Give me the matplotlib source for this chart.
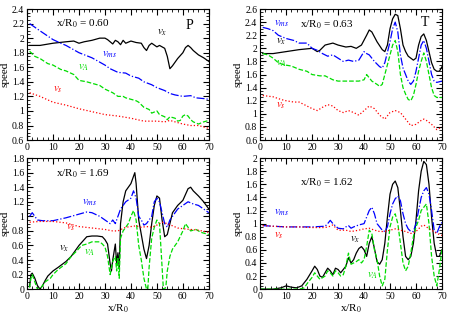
import numpy as np
import matplotlib
matplotlib.use("Agg")
import matplotlib.pyplot as plt
from matplotlib.ticker import MultipleLocator

plt.rcParams['font.family'] = ['Liberation Serif', 'DejaVu Serif']
plt.rcParams['mathtext.fontset'] = 'stix'
plt.rcParams['font.size'] = 7

# ---- panel P, x/R0 = 0.60 ----
p_vx_x = [1, 5, 10, 15, 18, 20, 22, 25, 28, 30, 31, 33, 34, 35, 36, 37, 38, 40, 42, 44, 45, 46, 47, 48, 50, 51, 53, 54, 55, 56, 57, 58, 60, 61, 62, 63, 64, 66, 68, 70]
p_vx_y = [1.9, 1.9, 1.93, 1.95, 1.96, 1.93, 1.95, 1.97, 2.0, 2.0, 1.98, 1.92, 1.97, 1.95, 1.91, 1.97, 1.93, 1.96, 1.94, 1.93, 1.87, 1.83, 1.9, 1.93, 1.88, 1.9, 1.86, 1.75, 1.58, 1.62, 1.67, 1.72, 1.8, 1.87, 1.9, 1.87, 1.83, 1.77, 1.73, 1.68]
p_vms_x = [1, 5, 10, 13, 15, 20, 25, 30, 32, 35, 38, 40, 43, 45, 48, 50, 53, 55, 57, 60, 63, 65, 68, 70]
p_vms_y = [2.2, 2.1, 1.98, 1.93, 1.9, 1.8, 1.73, 1.63, 1.58, 1.53, 1.52, 1.48, 1.45, 1.4, 1.36, 1.32, 1.28, 1.24, 1.22, 1.2, 1.21, 1.18, 1.17, 1.16]
p_va_x = [1, 3, 5, 8, 10, 13, 15, 18, 20, 23, 25, 28, 30, 33, 35, 37, 38, 40, 42, 43, 45, 47, 48, 50, 51, 53, 54, 55, 57, 58, 59, 60, 61, 62, 63, 64, 66, 68, 70]
p_va_y = [1.82, 1.75, 1.72, 1.65, 1.63, 1.57, 1.55, 1.5, 1.42, 1.4, 1.38, 1.35, 1.3, 1.25, 1.2, 1.2, 1.18, 1.16, 1.14, 1.12, 1.05, 1.02, 0.97, 1.0, 0.95, 0.92, 0.88, 0.92, 0.9, 0.86, 0.87, 0.93, 0.95, 0.93, 0.88, 0.85, 0.82, 0.85, 0.87]
p_vs_x = [1, 5, 10, 15, 20, 25, 30, 35, 40, 45, 50, 53, 55, 57, 60, 63, 66, 70]
p_vs_y = [1.25, 1.2, 1.12, 1.08, 1.03, 0.99, 0.95, 0.93, 0.9, 0.86, 0.86, 0.85, 0.87, 0.85, 0.82, 0.8, 0.8, 0.76]

# ---- panel T, x/R0 = 0.63 ----
t_vx_x = [1, 5, 10, 15, 20, 22, 23, 25, 28, 30, 33, 35, 37, 39, 41, 42, 43, 45, 47, 48, 49, 50, 51, 52, 53, 54, 55, 56, 57, 58, 59, 60, 61, 62, 63, 64, 65, 66, 67, 68, 69, 70]
t_vx_y = [1.92, 1.92, 1.95, 1.98, 2.0, 1.95, 1.97, 2.05, 2.08, 2.05, 2.02, 2.03, 2.0, 2.05, 2.2, 2.28, 2.25, 2.1, 1.98, 1.95, 2.05, 2.3, 2.45, 2.52, 2.5, 2.3, 2.05, 1.95, 1.88, 1.85, 1.82, 1.85, 2.05, 2.18, 2.22, 2.12, 1.95, 1.78, 1.68, 1.65, 1.65, 1.72]
t_vms_x = [1, 3, 5, 7, 10, 13, 15, 18, 20, 22, 24, 26, 28, 30, 32, 34, 36, 38, 40, 41, 42, 44, 46, 47, 48, 50, 51, 52, 53, 54, 55, 56, 57, 58, 59, 60, 61, 62, 63, 64, 65, 66, 67, 68, 70]
t_vms_y = [2.32, 2.3, 2.27, 2.2, 2.15, 2.12, 2.08, 2.08, 2.0, 1.97, 1.92, 1.88, 1.9, 1.85, 1.8, 1.82, 1.8, 1.82, 1.95, 1.92, 1.9, 1.8, 1.72, 1.7, 1.78, 2.1, 2.3, 2.4, 2.25, 1.9, 1.7, 1.6, 1.5, 1.45, 1.5, 1.65, 1.85, 2.05, 2.12, 2.0, 1.8, 1.6, 1.5, 1.48, 1.5]
t_va_x = [1, 3, 5, 7, 9, 12, 15, 18, 20, 23, 25, 28, 30, 33, 36, 38, 40, 41, 42, 43, 45, 46, 47, 48, 50, 51, 52, 53, 54, 55, 56, 57, 58, 59, 60, 61, 62, 63, 64, 65, 66, 67, 68, 70]
t_va_y = [1.92, 1.9, 1.85, 1.78, 1.75, 1.73, 1.68, 1.65, 1.6, 1.58, 1.58, 1.52, 1.5, 1.5, 1.5, 1.5, 1.52, 1.6, 1.55, 1.5, 1.45, 1.42, 1.45, 1.6, 1.9, 2.05, 2.12, 1.95, 1.6, 1.4, 1.3, 1.22, 1.2, 1.28, 1.45, 1.65, 1.8, 1.93, 1.8, 1.6, 1.4, 1.28, 1.25, 1.25]
t_vs_x = [1, 5, 8, 10, 13, 15, 18, 20, 22, 24, 26, 28, 30, 32, 34, 36, 38, 40, 42, 44, 46, 48, 50, 52, 54, 56, 58, 60, 62, 63, 64, 66, 68, 70]
t_vs_y = [1.28, 1.26, 1.22, 1.2, 1.18, 1.18, 1.12, 1.08, 1.05, 1.1, 1.14, 1.12, 1.05, 1.02, 1.05, 1.02, 0.98, 1.05, 1.12, 1.08, 0.98, 0.92, 1.02, 1.05, 1.02, 0.92, 0.82, 0.84, 0.9, 0.92, 0.9, 0.84, 0.76, 0.8]

# ---- panel bottom left, x/R0 = 1.69 ----
bl_vx_x = [1, 1.5, 2, 3, 4, 5, 6, 7, 8, 10, 12, 15, 17, 19, 20, 22, 23, 25, 27, 29, 30, 31, 32, 32.5, 33, 34, 34.5, 35, 35.5, 36, 37, 38, 39, 40, 41, 41.5, 42, 43, 44, 45, 46, 47, 48, 49, 50, 51, 52, 53, 54, 55, 56, 58, 60, 61, 62, 63, 64, 66, 68, 70]
bl_vx_y = [0.05, 0.2, 0.22, 0.15, 0.05, 0.0, 0.05, 0.12, 0.18, 0.25, 0.3, 0.38, 0.45, 0.55, 0.6, 0.68, 0.72, 0.73, 0.73, 0.72, 0.68, 0.62, 0.35, 0.25, 0.4, 0.62, 0.35, 0.5, 0.3, 0.9, 1.2, 1.35, 1.4, 1.45, 1.55, 1.6, 1.45, 0.95, 0.75, 0.55, 0.42, 0.6, 0.9, 1.15, 1.28, 1.25, 0.95, 0.72, 0.75, 0.9, 1.05, 1.15, 1.22, 1.3, 1.38, 1.4, 1.35, 1.28, 1.2, 1.1]
bl_vms_x = [1, 2, 3, 4, 6, 10, 15, 20, 23, 25, 28, 30, 32, 33, 34, 35, 36, 38, 40, 41, 42, 43, 44, 45, 46, 48, 49, 50, 51, 52, 53, 54, 55, 56, 58, 60, 62, 64, 66, 68, 70]
bl_vms_y = [1.0, 1.05, 1.0, 0.95, 0.94, 0.94, 0.98, 1.03, 1.06, 1.05, 1.0, 0.95, 0.9, 0.95, 0.9, 1.0, 1.1, 1.2, 1.25, 1.35, 1.25, 1.0, 0.95, 0.88, 0.9, 1.0, 1.2, 1.25, 1.2, 1.05, 0.9, 0.85, 0.95, 1.0, 1.1, 1.15, 1.2, 1.17, 1.15, 1.1, 1.05]
bl_vs_x = [1, 5, 10, 15, 20, 25, 30, 33, 35, 38, 40, 42, 44, 46, 48, 50, 52, 54, 56, 58, 60, 63, 66, 70]
bl_vs_y = [0.92, 0.93, 0.93, 0.91, 0.86, 0.84, 0.82, 0.8, 0.8, 0.85, 0.86, 0.87, 0.85, 0.86, 0.85, 0.88, 0.92, 0.9, 0.87, 0.84, 0.83, 0.82, 0.81, 0.78]
bl_va_x = [1, 1.5, 2, 3, 4, 5, 7, 9, 10, 12, 15, 17, 19, 21, 23, 25, 28, 29, 30, 31, 32, 33, 34, 34.5, 35, 35.5, 36, 37, 38, 39, 40, 41, 42, 43, 44, 45, 46, 46.5, 47, 48, 49, 50, 51, 52, 52.5, 53, 53.5, 54, 55, 56, 58, 60, 61, 62, 63, 65, 67, 70]
bl_va_y = [0.02, 0.15, 0.2, 0.1, 0.0, 0.0, 0.1, 0.15, 0.2, 0.27, 0.35, 0.45, 0.52, 0.6, 0.62, 0.65, 0.65, 0.62, 0.58, 0.45, 0.2, 0.38, 0.45, 0.25, 0.42, 0.15, 0.7, 0.8, 0.85, 0.9, 1.0, 1.08, 0.95, 0.6, 0.4, 0.15, 0.0, 0.0, 0.3, 0.7, 0.85, 0.95, 0.9, 0.3, 0.0, 0.0, 0.05, 0.25, 0.45, 0.55, 0.65, 0.8, 0.9, 0.85, 0.8, 0.82, 0.78, 0.75]

# ---- panel bottom right, x/R0 = 1.62 ----
br_vms_x = [1, 5, 10, 15, 20, 25, 26, 27, 28, 30, 32, 33, 34, 35, 36, 38, 40, 41, 42, 43, 44, 45, 46, 47, 48, 49, 50, 51, 52, 53, 54, 55, 56, 57, 58, 59, 60, 61, 62, 63, 64, 65, 66, 67, 68, 69, 70]
br_vms_y = [0.97, 0.96, 0.95, 0.95, 0.95, 0.96, 1.0, 1.05, 1.0, 0.93, 0.92, 0.95, 0.97, 0.93, 0.95, 0.98, 1.0, 1.1, 1.2, 1.25, 1.15, 1.0, 0.95, 0.9, 0.88, 0.95, 1.15, 1.3, 1.38, 1.42, 1.35, 1.15, 1.0, 0.92, 0.88, 0.88, 1.0, 1.2, 1.4, 1.5, 1.55, 1.45, 1.2, 0.9, 0.85, 0.95, 1.02]
br_vs_x = [1, 5, 10, 15, 20, 25, 27, 28, 30, 33, 35, 38, 40, 42, 44, 46, 48, 50, 52, 54, 56, 58, 60, 62, 63, 64, 66, 68, 70]
br_vs_y = [0.97, 0.96, 0.95, 0.95, 0.94, 0.94, 0.96, 0.98, 0.9, 0.9, 0.88, 0.9, 0.92, 0.93, 0.9, 0.88, 0.88, 0.9, 0.92, 0.9, 0.88, 0.85, 0.88, 0.96, 0.98, 0.95, 0.9, 0.85, 0.82]
br_vx_x = [0, 5, 8, 10, 12, 14, 16, 18, 20, 21, 22, 23, 24, 25, 26, 27, 28, 29, 30, 31, 32, 33, 34, 35, 36, 37, 38, 39, 40, 41, 42, 43, 44, 45, 46, 47, 48, 49, 50, 51, 52, 53, 54, 55, 56, 57, 58, 59, 60, 61, 62, 63, 64, 65, 66, 67, 68, 69, 70]
br_vx_y = [0.0, 0.0, 0.02, 0.05, 0.03, 0.02, 0.05, 0.15, 0.28, 0.35, 0.3, 0.2, 0.18, 0.25, 0.32, 0.28, 0.22, 0.32, 0.3, 0.25, 0.3, 0.35, 0.48, 0.4, 0.45, 0.55, 0.62, 0.65, 0.6, 0.5, 0.7, 0.8, 0.62, 0.42, 0.38, 0.45, 0.7, 1.1, 1.45, 1.6, 1.65, 1.55, 1.2, 0.8, 0.5, 0.45, 0.5, 0.7, 1.05, 1.5, 1.8, 1.95, 1.9, 1.6, 1.1, 0.7, 0.5, 0.5, 0.6]
br_va_x = [0, 10, 15, 17, 18, 20, 21, 22, 23, 25, 26, 27, 28, 29, 30, 31, 32, 33, 34, 35, 36, 37, 38, 39, 40, 41, 42, 43, 44, 45, 46, 47, 48, 49, 50, 51, 52, 53, 54, 55, 56, 57, 58, 59, 60, 61, 62, 63, 64, 65, 66, 67, 68, 69, 70]
br_va_y = [0.0, 0.0, 0.0, 0.02, 0.08, 0.18, 0.25, 0.2, 0.15, 0.2, 0.28, 0.25, 0.2, 0.28, 0.25, 0.2, 0.22, 0.35, 0.55, 0.38, 0.4, 0.42, 0.45, 0.4, 0.45, 0.65, 0.9, 0.85, 0.6, 0.45, 0.2, 0.05, 0.15, 0.6, 0.95, 1.1, 1.15, 1.0, 0.7, 0.4, 0.28, 0.35, 0.55, 0.8, 0.95, 1.05, 1.2, 1.25, 1.3, 1.0, 0.5, 0.2, 0.05, 0.3, 0.6]

BLUE = '#0000ff'
GREEN = '#00dd00'
RED = '#ff0000'

fig = plt.figure(figsize=(4.58, 3.22), dpi=100)
W, H = 0.397, 0.407
ax_tl = fig.add_axes([0.059, 0.565, W, H])
ax_tr = fig.add_axes([0.568, 0.565, W, H])
ax_bl = fig.add_axes([0.059, 0.102, W, H])
ax_br = fig.add_axes([0.568, 0.102, W, H])


def style(ax, ylo, yhi):
    ax.set_xlim(0, 70)
    ax.set_ylim(ylo, yhi)
    ax.xaxis.set_major_locator(MultipleLocator(10))
    ax.xaxis.set_minor_locator(MultipleLocator(2))
    ax.yaxis.set_major_locator(MultipleLocator(0.2))
    ax.yaxis.set_minor_locator(MultipleLocator(0.05))
    ax.yaxis.set_major_formatter(plt.FuncFormatter(lambda v, p: ('%.1f' % v).rstrip('0').rstrip('.')))
    ax.tick_params(which='both', direction='in', top=True, right=True, labelsize=7, pad=2)
    ax.tick_params(which='major', length=4)
    ax.tick_params(which='minor', length=2)
    ax.set_ylabel('speed', fontsize=8, labelpad=2)


lw = 0.9
# P panel
style(ax_tl, 0.6, 2.4)
ax_tl.plot(p_vx_x, p_vx_y, color='black', lw=lw)
ax_tl.plot(p_vms_x, p_vms_y, color=BLUE, lw=lw, ls='-.')
ax_tl.plot(p_va_x, p_va_y, color=GREEN, lw=lw, ls='--')
ax_tl.plot(p_vs_x, p_vs_y, color=RED, lw=lw, ls=':')
ax_tl.text(11, 2.2, r'x/R$_0$ = 0.60', fontsize=8, va='center')
ax_tl.text(61, 2.18, 'P', fontsize=10, va='center')
ax_tl.text(50, 2.07, r'$v_x$', fontsize=8, va='center')
ax_tl.text(29, 1.77, r'$v_{ms}$', fontsize=8, va='center', color=BLUE)
ax_tl.text(19.5, 1.6, r'$v_A$', fontsize=8, va='center', color=GREEN)
ax_tl.text(10, 1.29, r'$v_s$', fontsize=8, va='center', color=RED)

# T panel
style(ax_tr, 0.6, 2.6)
ax_tr.plot(t_vx_x, t_vx_y, color='black', lw=lw)
ax_tr.plot(t_vms_x, t_vms_y, color=BLUE, lw=lw, ls='-.')
ax_tr.plot(t_va_x, t_va_y, color=GREEN, lw=lw, ls='--')
ax_tr.plot(t_vs_x, t_vs_y, color=RED, lw=lw, ls=':')
ax_tr.text(15.5, 2.36, r'x/R$_0$ = 0.63', fontsize=8, va='center')
ax_tr.text(62, 2.4, 'T', fontsize=10, va='center')
ax_tr.text(5.5, 2.38, r'$v_{ms}$', fontsize=8, va='center', color=BLUE)
ax_tr.text(6, 2.1, r'$v_x$', fontsize=8, va='center')
ax_tr.text(6, 1.77, r'$v_A$', fontsize=8, va='center', color=GREEN)
ax_tr.text(6, 1.13, r'$v_s$', fontsize=8, va='center', color=RED)

# bottom left
style(ax_bl, 0, 1.8)
ax_bl.plot(bl_vx_x, bl_vx_y, color='black', lw=lw)
ax_bl.plot(bl_vms_x, bl_vms_y, color=BLUE, lw=lw, ls='-.')
ax_bl.plot(bl_va_x, bl_va_y, color=GREEN, lw=lw, ls='--')
ax_bl.plot(bl_vs_x, bl_vs_y, color=RED, lw=lw, ls=':')
ax_bl.text(11, 1.59, r'x/R$_0$ = 1.69', fontsize=8, va='center')
ax_bl.text(21, 1.18, r'$v_{ms}$', fontsize=8, va='center', color=BLUE)
ax_bl.text(15, 0.85, r'$v_s$', fontsize=8, va='center', color=RED)
ax_bl.text(12.5, 0.56, r'$v_x$', fontsize=8, va='center')
ax_bl.text(22, 0.5, r'$v_A$', fontsize=8, va='center', color=GREEN)
ax_bl.set_xlabel(r'x/R$_0$', fontsize=8, labelpad=1)

# bottom right
style(ax_br, 0, 2.0)
ax_br.plot(br_vx_x, br_vx_y, color='black', lw=lw)
ax_br.plot(br_vms_x, br_vms_y, color=BLUE, lw=lw, ls='-.')
ax_br.plot(br_va_x, br_va_y, color=GREEN, lw=lw, ls='--')
ax_br.plot(br_vs_x, br_vs_y, color=RED, lw=lw, ls=':')
ax_br.text(15.5, 1.63, r'x/R$_0$ = 1.62', fontsize=8, va='center')
ax_br.text(5.5, 1.16, r'$v_{ms}$', fontsize=8, va='center', color=BLUE)
ax_br.text(5.5, 0.82, r'$v_s$', fontsize=8, va='center', color=RED)
ax_br.text(34.5, 0.75, r'$v_x$', fontsize=8, va='center')
ax_br.text(41, 0.2, r'$v_A$', fontsize=8, va='center', color=GREEN)
ax_br.set_xlabel(r'x/R$_0$', fontsize=8, labelpad=1)

fig.savefig('out.png', dpi=100)
